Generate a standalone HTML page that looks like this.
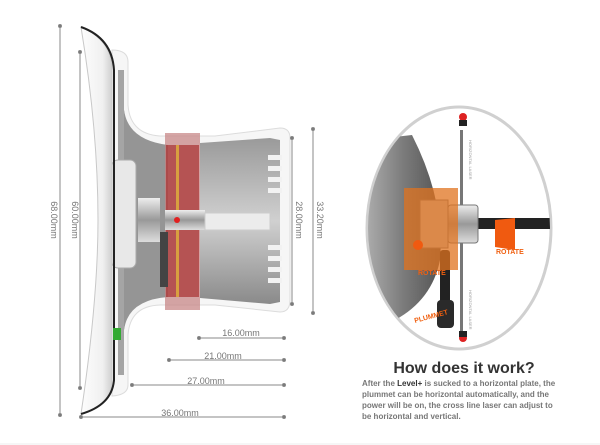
<!DOCTYPE html>
<html><head><meta charset="utf-8"><style>
html,body{margin:0;padding:0;background:#fff;}
svg{display:block;}
text{font-family:"Liberation Sans",Arial,sans-serif;}
</style></head><body>
<svg width="600" height="445" viewBox="0 0 600 445" xmlns="http://www.w3.org/2000/svg">
<defs>
<linearGradient id="cyl" x1="0" y1="0" x2="0" y2="1">
<stop offset="0" stop-color="#9a9a9a"/><stop offset="0.5" stop-color="#d0d0d0"/><stop offset="1" stop-color="#8a8a8a"/>
</linearGradient>
<linearGradient id="plate" x1="0" y1="0" x2="1" y2="0">
<stop offset="0" stop-color="#fdfdfd"/><stop offset="0.7" stop-color="#f0f0f0"/><stop offset="1" stop-color="#cfcfcf"/>
</linearGradient>
<linearGradient id="cup" x1="0" y1="0" x2="1" y2="0">
<stop offset="0" stop-color="#aaa"/><stop offset="0.5" stop-color="#7a7a7a"/><stop offset="1" stop-color="#555"/>
</linearGradient>
<linearGradient id="met" x1="0" y1="0" x2="0" y2="1">
<stop offset="0" stop-color="#eee"/><stop offset="0.5" stop-color="#999"/><stop offset="1" stop-color="#ddd"/>
</linearGradient>
</defs>
<rect width="600" height="445" fill="#fff"/>

<path d="M112,50 Q128,50 128,62 L128,105 Q130,134 160,136 L215,136 L280,128 Q290,128 290,138 L290,300 Q290,312 280,312 L215,305 L160,305 Q130,306 128,335 L128,385 Q128,395 112,396 Z" fill="#f6f6f6" stroke="#dcdcdc" stroke-width="1"/>
<path d="M118,70 L124,70 L124,110 Q128,140 165,145 L165,295 Q128,300 124,330 L124,375 L118,375 Z" fill="#a5a5a5"/>
<path d="M124,110 Q128,140 168,145 L168,297 Q128,300 124,330 Z" fill="#959595"/>
<path d="M200,143 L270,138 L280,140 L280,302 L270,304 L200,298 Z" fill="url(#cyl)"/>
<g fill="#f2f2f2">
<rect x="268" y="155" width="14" height="5"/><rect x="268" y="166" width="14" height="5"/><rect x="268" y="177" width="14" height="5"/><rect x="268" y="188" width="14" height="5"/><rect x="268" y="245" width="14" height="5"/><rect x="268" y="256" width="14" height="5"/><rect x="268" y="267" width="14" height="5"/><rect x="268" y="278" width="14" height="5"/>
</g>
<rect x="112" y="160" width="24" height="108" rx="6" fill="#e8e8e8" stroke="#aaa"/>
<rect x="138" y="198" width="22" height="44" fill="url(#met)"/>
<rect x="165" y="133" width="35" height="177" fill="#c48080" opacity="0.7"/>
<rect x="166" y="145" width="33" height="152" fill="#a83030" opacity="0.7"/>
<rect x="176" y="145" width="3" height="152" fill="#d8a040"/>
<rect x="160" y="232" width="8" height="55" fill="#444"/>
<rect x="165" y="210" width="40" height="20" fill="url(#met)"/>
<circle cx="177" cy="220" r="3" fill="#e02020"/>
<rect x="205" y="213" width="65" height="17" fill="#ececec" stroke="#ccc"/>
<path d="M81,27 Q112,40 112,70 L112,380 Q112,405 81,414 Q98,300 98,220 Q98,130 81,27 Z" fill="url(#plate)" stroke="#c8c8c8"/>
<path d="M81,27 Q112,38 114,70 L114,380 Q112,405 81,414" fill="none" stroke="#222" stroke-width="2"/>
<rect x="113" y="328" width="8" height="12" fill="#3a3"/>

<g stroke="#888" stroke-width="1" fill="#777">
<line x1="60" y1="26" x2="60" y2="415"/><circle cx="60" cy="26" r="1.5"/><circle cx="60" cy="415" r="1.5"/>
<line x1="80" y1="52" x2="80" y2="388"/><circle cx="80" cy="52" r="1.5"/><circle cx="80" cy="388" r="1.5"/>
<line x1="313" y1="129" x2="313" y2="313"/><circle cx="313" cy="129" r="1.5"/><circle cx="313" cy="313" r="1.5"/>
<line x1="292" y1="138" x2="292" y2="304"/><circle cx="292" cy="138" r="1.5"/><circle cx="292" cy="304" r="1.5"/>
<line x1="199" y1="338" x2="284" y2="338"/><circle cx="199" cy="338" r="1.5"/><circle cx="284" cy="338" r="1.5"/>
<line x1="169" y1="360" x2="284" y2="360"/><circle cx="169" cy="360" r="1.5"/><circle cx="284" cy="360" r="1.5"/>
<line x1="132" y1="385" x2="284" y2="385"/><circle cx="132" cy="385" r="1.5"/><circle cx="284" cy="385" r="1.5"/>
<line x1="81" y1="417" x2="284" y2="417"/><circle cx="81" cy="417" r="1.5"/><circle cx="284" cy="417" r="1.5"/>
</g>
<g fill="#777" font-size="9">
<text x="241" y="336" text-anchor="middle">16.00mm</text>
<text x="223" y="359" text-anchor="middle">21.00mm</text>
<text x="206" y="384" text-anchor="middle">27.00mm</text>
<text x="180" y="416" text-anchor="middle">36.00mm</text>
<text transform="translate(51,220) rotate(90)" text-anchor="middle">68.00mm</text>
<text transform="translate(72,220) rotate(90)" text-anchor="middle">60.00mm</text>
<text transform="translate(296,220) rotate(90)" text-anchor="middle">28.00mm</text>
<text transform="translate(317,220) rotate(90)" text-anchor="middle">33.20mm</text>
</g>

<ellipse cx="459" cy="228" rx="92" ry="121" fill="#fff" stroke="#d0d0d0" stroke-width="3"/>
<clipPath id="ec"><ellipse cx="459" cy="228" rx="91" ry="120"/></clipPath>
<g clip-path="url(#ec)">
<path d="M412,135 Q445,200 440,260 Q432,300 395,320 L368,320 L368,140 Z" fill="url(#cup)"/>
<rect x="460" y="130" width="3" height="210" fill="#777"/>
<rect x="440" y="250" width="10" height="70" fill="#222" rx="3"/>
<rect x="437" y="300" width="17" height="28" rx="4" fill="#2a2a2a"/>
<rect x="470" y="218" width="80" height="11" fill="#222"/>
<rect x="420" y="200" width="28" height="48" fill="#c9c9c9" stroke="#777"/>
<rect x="448" y="205" width="30" height="38" rx="3" fill="url(#met)" stroke="#777"/>
<path d="M404,188 L458,188 L458,270 L404,270 Z" fill="#e0731f" opacity="0.75"/>
<circle cx="418" cy="245" r="5" fill="#f05a10"/>
<path d="M495,220 L515,218 L515,250 L495,247 Z" fill="#f05a10"/>
</g>
<circle cx="463" cy="117" r="4" fill="#d22"/><rect x="459" y="120" width="8" height="6" fill="#222"/>
<circle cx="463" cy="338" r="4" fill="#d22"/><rect x="459" y="331" width="8" height="6" fill="#222"/>
<g fill="#f06010" font-size="7" font-weight="bold">
<text x="496" y="254">ROTATE</text>
<text x="418" y="275">ROTATE</text>
<text x="415" y="323" transform="rotate(-15 415 323)">PLUMMET</text>
</g>
<g fill="#999" font-size="4">
<text transform="translate(469,140) rotate(90)">HORIZONTAL LASER</text>
<text transform="translate(469,290) rotate(90)">HORIZONTAL LASER</text>
</g>

<text x="464" y="373" text-anchor="middle" font-size="16" font-weight="bold" fill="#333">How does it work?</text>
<g font-size="8" font-weight="bold" fill="#777">
<text x="362" y="386">After the <tspan fill="#333">Level+</tspan> is sucked to a horizontal plate, the</text>
<text x="362" y="397">plummet can be horizontal automatically, and the</text>
<text x="362" y="408">power will be on, the cross line laser can adjust to</text>
<text x="362" y="419">be horizontal and vertical.</text>
</g>
<line x1="0" y1="444" x2="600" y2="444" stroke="#eee"/>
</svg>
</body></html>
